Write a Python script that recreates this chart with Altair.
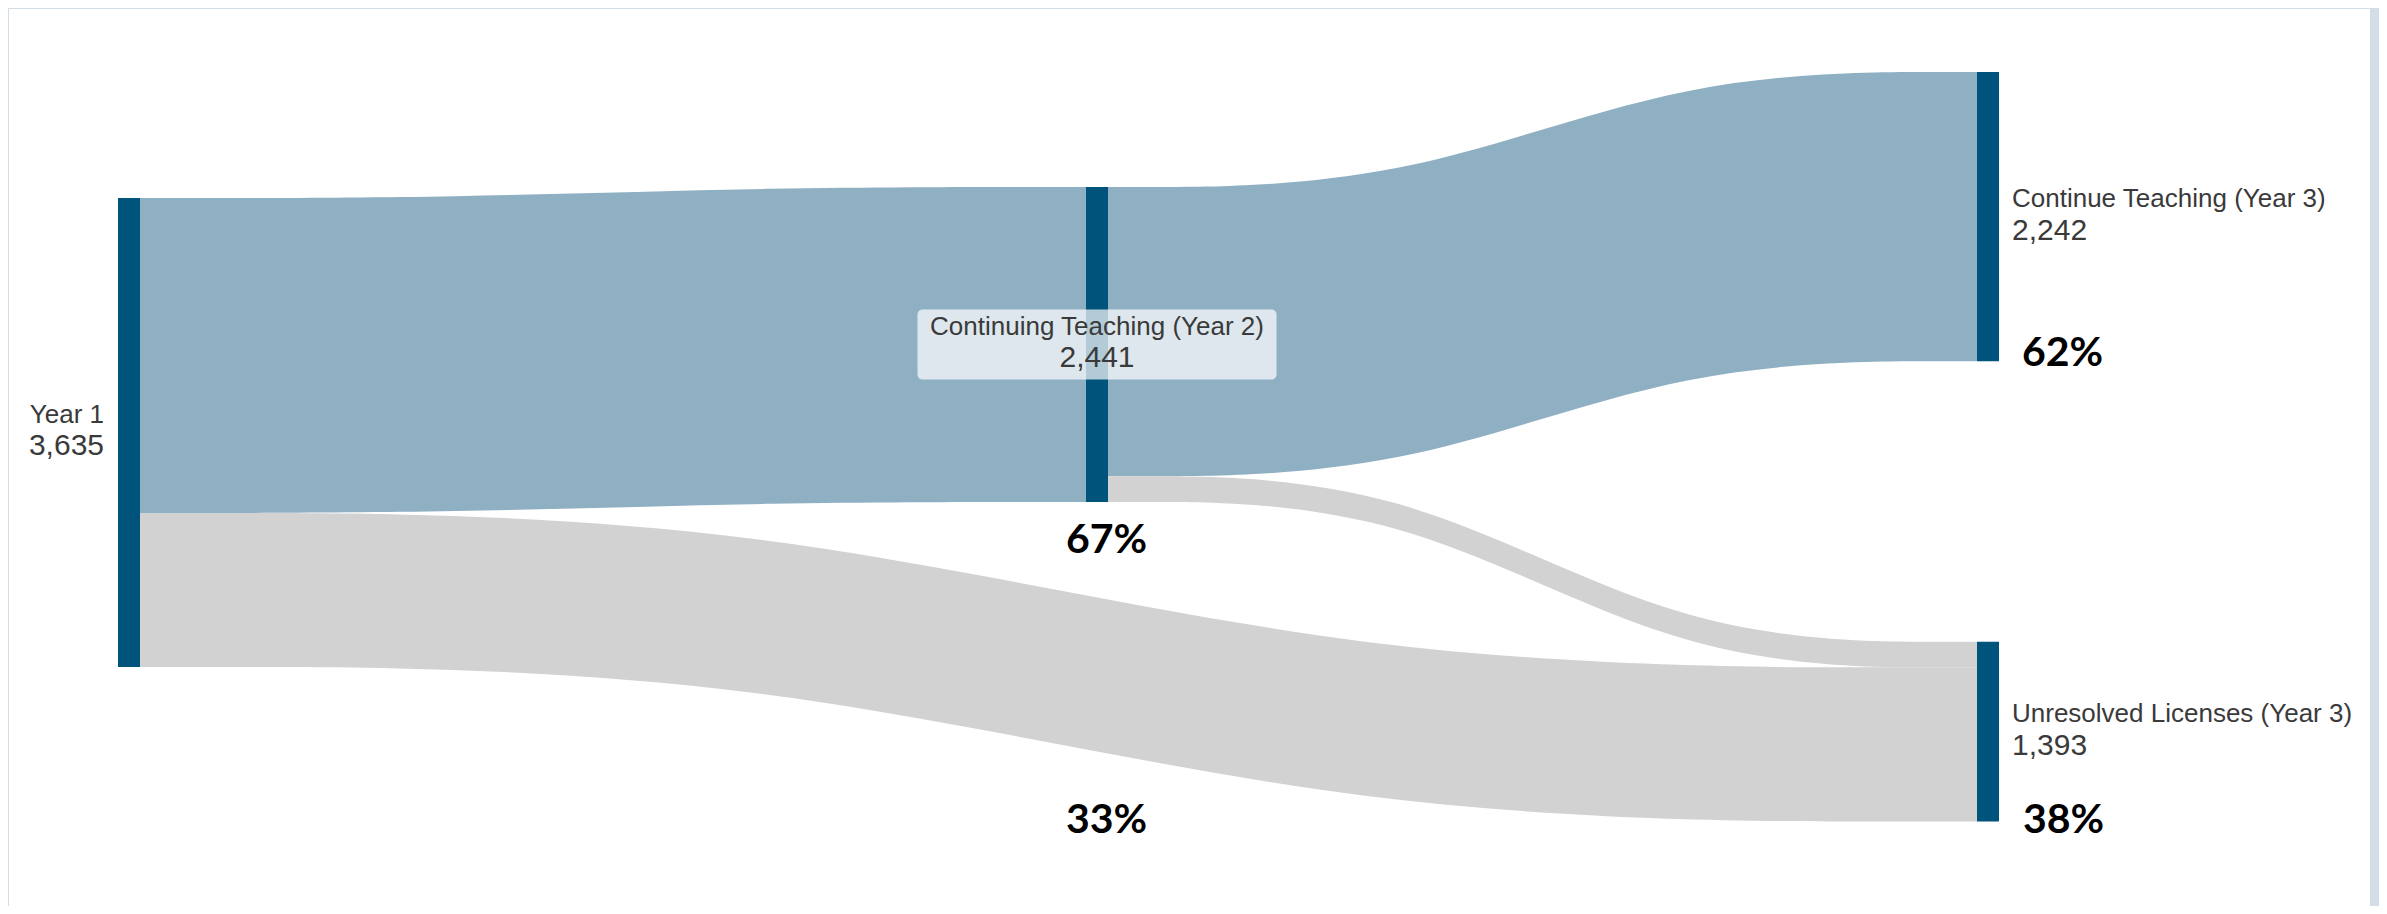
import altair as alt
import pandas as pd

# ---------------- data ----------------
NODE_NAMES = [
    "Year 1",
    "Continuing Teaching (Year 2)",
    "Continue Teaching (Year 3)",
    "Unresolved Licenses (Year 3)",
]
NODE_STAGE = [0, 1, 2, 2]
LINK_SOURCE = [0, 0, 1, 1]
LINK_TARGET = [1, 3, 2, 3]
LINK_VALUE = [2441, 1194, 2242, 199]
LINK_GROUP = ["Continuing", "Unresolved", "Continuing", "Unresolved"]

# ---------------- layout (positions / sizes) ----------------
W, H = 2371, 898
UNIT_PX = 0.12902              # pixels per teacher
Y_MAX = H / UNIT_PX
STAGE_X = [110, 1078, 1969]     # left edge of node column, px
NODE_W = 22
NODE_TOP = [1472.6, 1387.4, 496.0, 4911.6]   # node top, in value units

NODE_COLOR = "#00537a"
LINK_COLORS = ["#8fb0c3", "#d2d2d2"]
TEXT_COLOR = "#3a3a3a"
BORDER = "#d3dde8"
LABEL_FONT = "Liberation Sans"
PCT_FONT = "Lato"

# ---------------- node table ----------------
n = len(NODE_NAMES)
node_in = [0] * n
node_out = [0] * n
for s, t, v in zip(LINK_SOURCE, LINK_TARGET, LINK_VALUE):
    node_out[s] += v
    node_in[t] += v
node_val = [max(a, b) for a, b in zip(node_in, node_out)]

nodes = pd.DataFrame({
    "name": NODE_NAMES,
    "stage": NODE_STAGE,
    "value": node_val,
    "x0": [STAGE_X[s] for s in NODE_STAGE],
    "x1": [STAGE_X[s] + NODE_W for s in NODE_STAGE],
    "y0": NODE_TOP,
    "y1": [t + v for t, v in zip(NODE_TOP, node_val)],
})
nodes["xc"] = (nodes["x0"] + nodes["x1"]) / 2
nodes["yc"] = (nodes["y0"] + nodes["y1"]) / 2
nodes["num"] = [f"{v:,}" for v in node_val]

# ---------------- link table (sankey layout) ----------------
out_pos = list(NODE_TOP)
in_pos = list(NODE_TOP)
src_y = {}
for i in sorted(range(len(LINK_VALUE)), key=lambda i: NODE_TOP[LINK_TARGET[i]]):
    s = LINK_SOURCE[i]
    src_y[i] = out_pos[s]
    out_pos[s] += LINK_VALUE[i]
tgt_y = {}
for i in sorted(range(len(LINK_VALUE)), key=lambda i: NODE_TOP[LINK_SOURCE[i]]):
    t = LINK_TARGET[i]
    tgt_y[i] = in_pos[t]
    in_pos[t] += LINK_VALUE[i]

rows = []
for i, (s, t, v, g) in enumerate(zip(LINK_SOURCE, LINK_TARGET, LINK_VALUE, LINK_GROUP)):
    xs = STAGE_X[NODE_STAGE[s]] + NODE_W
    xt = STAGE_X[NODE_STAGE[t]]
    d = xt - xs
    ctrl = [(xs, src_y[i]), (xs + d / 3, src_y[i]), (xs + 2 * d / 3, tgt_y[i]), (xt, tgt_y[i])]
    for k, (x, y) in enumerate(ctrl):
        rows.append({"link": i, "group": g, "k": k, "x": x, "y0": y, "y1": y + v})
links_df = pd.DataFrame(rows)

# ---------------- percent annotations ----------------
total = node_val[0]
pct = {name: f"{round(100 * v / total)}%" for name, v in zip(NODE_NAMES, node_val)}
lost_y1 = f"{round(100 * LINK_VALUE[1] / total)}%"

xsc = alt.Scale(domain=[0, W], nice=False, zero=False)
ysc = alt.Scale(domain=[0, Y_MAX], reverse=True, nice=False, zero=False)

base_links = alt.Chart(links_df).mark_area(interpolate="basis").encode(
    x=alt.X("x:Q", scale=xsc, axis=None),
    y=alt.Y("y0:Q", scale=ysc, axis=None, stack=None),
    y2="y1:Q",
    detail="link:N",
    color=alt.Color("group:N", scale=alt.Scale(domain=["Continuing", "Unresolved"], range=LINK_COLORS), legend=None),
)

node_rects = alt.Chart(nodes).mark_rect(color=NODE_COLOR).encode(
    x=alt.X("x0:Q", scale=xsc, axis=None), x2="x1:Q",
    y=alt.Y("y0:Q", scale=ysc, axis=None), y2="y1:Q",
)

box = alt.Chart(nodes).transform_filter("datum.stage == 1").transform_calculate(
    bx0="datum.xc - 179.5", bx1="datum.xc + 179.5",
    by0=f"datum.yc - {35 / UNIT_PX}", by1=f"datum.yc + {35 / UNIT_PX}",
).mark_rect(color="white", opacity=0.7, cornerRadius=5).encode(
    x=alt.X("bx0:Q", scale=xsc, axis=None), x2="bx1:Q",
    y=alt.Y("by0:Q", scale=ysc, axis=None), y2="by1:Q",
)


def node_text(stage, xfield, align, field, dy, size):
    return alt.Chart(nodes).transform_filter(f"datum.stage == {stage}").transform_calculate(
        tx=xfield
    ).mark_text(
        align=align, baseline="alphabetic", dy=dy, fontSize=size, font=LABEL_FONT, color=TEXT_COLOR
    ).encode(
        x=alt.X("tx:Q", scale=xsc, axis=None),
        y=alt.Y("yc:Q", scale=ysc, axis=None),
        text=f"{field}:N",
    )


texts = []
for stage, xf, al in [(0, "datum.x0 - 14", "right"), (1, "datum.xc", "center"), (2, "datum.x1 + 13", "left")]:
    texts.append(node_text(stage, xf, al, "name", -9.5, 26))
    texts.append(node_text(stage, xf, al, "num", 23, 30))

pct_df = pd.DataFrame({
    "label": [pct[NODE_NAMES[1]], lost_y1, pct[NODE_NAMES[2]], pct[NODE_NAMES[3]]],
    "x": [nodes.loc[1, "xc"] + 9.5, nodes.loc[1, "xc"] + 9.5, nodes.loc[2, "x1"] + 23, nodes.loc[3, "x1"] + 24],
    "y": [nodes.loc[1, "y1"], nodes.loc[3, "y1"], nodes.loc[2, "y1"], nodes.loc[3, "y1"]],
    "align": ["center", "center", "left", "left"],
    "dy": [51, 12, 5, 12],
})

pct_layers = []
for i in range(len(pct_df)):
    r = pct_df.iloc[[i]]
    pct_layers.append(
        alt.Chart(r).mark_text(
            align=r["align"].iloc[0], baseline="alphabetic", dy=float(r["dy"].iloc[0]),
            fontSize=41, font=PCT_FONT, fontWeight="bold", color="black",
        ).encode(
            x=alt.X("x:Q", scale=xsc, axis=None),
            y=alt.Y("y:Q", scale=ysc, axis=None),
            text="label:N",
        )
    )

frame_df = pd.DataFrame({"side": ["left", "top", "right"]})
frame = alt.Chart(frame_df.iloc[[0]]).mark_rect(color=BORDER).encode(
    x=alt.value(0), x2=alt.value(1), y=alt.value(0), y2=alt.value(H)
)
frame_top = alt.Chart(frame_df.iloc[[1]]).mark_rect(color=BORDER).encode(
    x=alt.value(0), x2=alt.value(W), y=alt.value(0), y2=alt.value(1)
)
frame_right = alt.Chart(frame_df.iloc[[2]]).mark_rect(color=BORDER).encode(
    x=alt.value(W - 9), x2=alt.value(W), y=alt.value(0), y2=alt.value(H)
)

chart = alt.layer(
    frame, frame_top, frame_right, base_links, node_rects, box, *texts, *pct_layers
).properties(
    width=W, height=H, padding=0, autosize=alt.AutoSizeParams(type="none"), background="white"
).configure_view(stroke=None)

chart.save("out.html", embed_options={"renderer": "svg", "actions": False})
